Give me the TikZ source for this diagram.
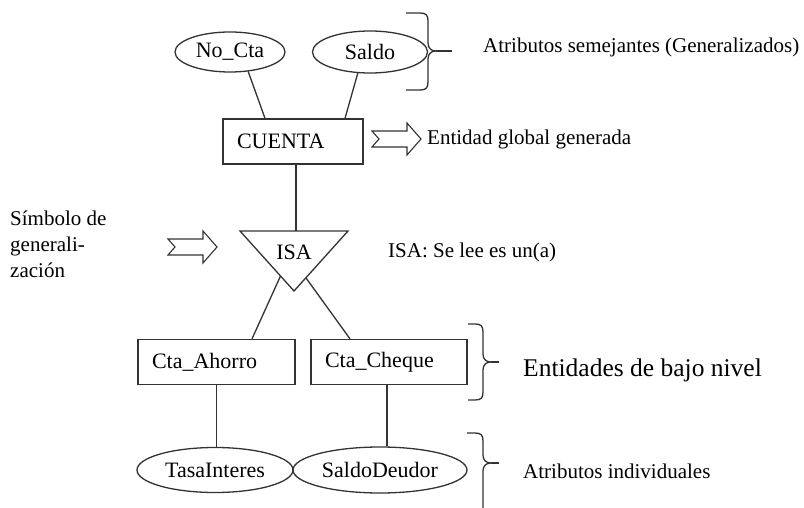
\documentclass[tikz,border=0pt]{standalone}
\usepackage{fontspec}
\setmainfont{Liberation Serif}
\usetikzlibrary{shapes.geometric,calc}
\newcommand\myrbrace[6]{% x, top, tip, bottom, left end, line end
  \draw[ln] ({#5},#2) -- ({#1-8},#2) .. controls ({#1-2},#2) and (#1,{#2+2}) .. (#1,{#2+8})
    -- (#1,{#3-8}) .. controls (#1,{#3-3}) and ({#1+3},#3) .. ({#1+8},#3)
    .. controls ({#1+3},#3) and (#1,{#3+3}) .. (#1,{#3+8})
    -- (#1,{#4-8}) .. controls (#1,{#4-2}) and ({#1-2},#4) .. ({#1-8},#4) -- ({#5},#4);
  \draw[ln] ({#1+8},#3) -- ({#6},#3);}
\tikzset{
  ln/.style={line width=1.3pt, draw=black!80},
  ent/.style={ln, rectangle, minimum height=45pt, inner xsep=14pt, inner ysep=0pt, align=left, font=\fontsize{22}{26}\selectfont},
  attr/.style={ln, ellipse, inner sep=0pt, font=\fontsize{22}{26}\selectfont},
  lbl/.style={inner sep=0pt, anchor=west, font=\fontsize{21}{26}\selectfont},
  hollowarrow/.pic={\draw[ln, line width=1.1pt] (0,-8) -- (35,-8) -- (35,-16) -- (49,0) -- (35,16) -- (35,8) -- (0,8) -- (7,0) -- cycle;}
}
\begin{document}
\begin{tikzpicture}[x=1pt,y=-1pt]
\useasboundingbox (0,0) rectangle (804,508);
\clip (0,0) rectangle (804,508);
\fill[white] (0,0) rectangle (804,508);
% top attributes
\node[attr, minimum width=110pt, minimum height=40pt] (nocta) at (230,52) {No\_Cta};
\node[attr, minimum width=115pt, minimum height=42pt] (saldo) at (370,52) {Saldo};
% CUENTA
\node[ent, text width=112pt] (cuenta) at (293,141.5) {CUENTA};
\draw[ln] (nocta.-47) -- ([xshift=-28pt]cuenta.north);
\draw[ln] (saldo.-120) -- ([xshift=52pt]cuenta.north);
% ISA triangle
\coordinate (isaA) at (240,231);
\coordinate (isaB) at (348,231);
\coordinate (isaC) at (294,291);
\draw[ln, line join=miter] (isaA) -- (isaB) -- (isaC) -- cycle;
\node[inner sep=0pt, font=\fontsize{22}{26}\selectfont] (isa) at (294,252) {ISA};
\coordinate (isatop) at (296,231);
\coordinate (isaL) at ($(isaA)!0.75!(isaC)$);
\coordinate (isaR) at ($(isaB)!0.78!(isaC)$);
\draw[ln] ([xshift=3pt]cuenta.south) -- (isatop);
% lower entities
\node[ent, text width=129pt] (ahorro) at (216.5,362) {Cta\_Ahorro};
\node[ent, text width=128pt] (cheque) at (389,362) {Cta\_Cheque};
\draw[ln] (isaL) -- ([xshift=35.5pt]ahorro.north);
\draw[ln] (isaR) -- ([xshift=-39pt]cheque.north);
% lower attributes
\node[attr, minimum width=156pt, minimum height=45pt] (tasa) at (215,470) {TasaInteres};
\node[attr, minimum width=174pt, minimum height=46pt] (deudor) at (380,470) {SaldoDeudor};
\draw[ln] (ahorro.south) -- (ahorro.south |- tasa.north);
\draw[ln] ([xshift=-2pt]cheque.south) -- ([xshift=-2pt]cheque.south |- deudor.north);
% arrows
\pic at (372,139) {hollowarrow};
\pic at (168,247) {hollowarrow};
% braces
\myrbrace{428}{13}{51}{90}{406}{452}
\myrbrace{483}{324}{362}{400}{468}{499}
\myrbrace{483}{433}{463}{560}{467}{499}
% labels
\node[lbl] (t1) at (483,47) {Atributos semejantes (Generalizados)};
\node[lbl] (t2) at (427,139) {Entidad global generada};
\node[lbl, align=left, font=\fontsize{21}{26}\selectfont] (t3) at (10,244) {Símbolo de\\generali-\\zación};
\node[lbl] (t4) at (388,252) {ISA: Se lee es un(a)};
\node[lbl, font=\fontsize{25.5}{30}\selectfont] (t5) at (523,370) {Entidades de bajo nivel};
\node[lbl] (t6) at (523,471) {Atributos individuales};
\end{tikzpicture}
\end{document}
